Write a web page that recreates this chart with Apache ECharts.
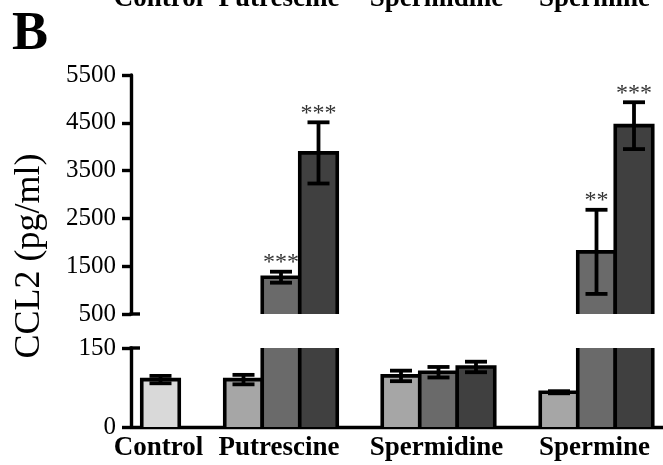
<!DOCTYPE html>
<html>
<head>
<meta charset="utf-8">
<script src="https://cdn.jsdelivr.net/npm/echarts@6.0.0/dist/echarts.min.js"></script>
<style>
  html, body { margin: 0; padding: 0; background: #ffffff; }
  #chart { width: 663px; height: 465px; }
</style>
</head>
<body>
<div id="chart"></div>
<script>
// CCL2 secretion (pg/ml), mean and SEM per treatment; dose levels low / mid / high
const categories = ['Control', 'Putrescine', 'Spermidine', 'Spermine'];
const controlMean = [90];
const controlSem = [7];
const putrescineMean = [90, 1270, 3870];
const putrescineSem = [9, 115, 640];
const spermidineMean = [97, 104, 114];
const spermidineSem = [10, 10, 10];
const spermineMean = [66, 1800, 4440];
const spermineSem = [2, 880, 490];
const controlSig = [''];
const putrescineSig = ['', '***', '***'];
const spermidineSig = ['', '', ''];
const spermineSig = ['', '**', '***'];
const upperTicks = [500, 1500, 2500, 3500, 4500, 5500];
const lowerTicks = [0, 150];
const lowerMinorTicks = [0, 50, 100, 150];

const groups = [
  { mean: controlMean, sem: controlSem, sig: controlSig },
  { mean: putrescineMean, sem: putrescineSem, sig: putrescineSig },
  { mean: spermidineMean, sem: spermidineSem, sig: spermidineSig },
  { mean: spermineMean, sem: spermineSem, sig: spermineSig }
];

// layout (x axis runs in plot pixels from the y axis)
const X_SPAN = 532;
const groupCenter = [29.5, 150, 307.5, 465.5];
const barStep = 37.5;
const controlFill = '#d9d9d9';
const doseFill = ['#a6a6a6', '#6a6a6a', '#404040'];
const SERIF = '"Liberation Serif", "DejaVu Serif", serif';

const rows = [];
groups.forEach((grp, g) => {
  grp.mean.forEach((m, d) => {
    rows.push({
      g, d, n: grp.mean.length, mean: m, sem: grp.sem[d], sig: grp.sig[d],
      fill: g === 0 ? controlFill : doseFill[d]
    });
  });
});
const rowData = rows.map(r => [r.g, r.d, r.mean, r.sem, r.n]);

function renderBar(params, api) {
  const r = rows[params.dataIndex];
  const cs = params.coordSys;
  const xc = groupCenter[r.g] + (r.d - (r.n - 1) / 2) * barStep;
  const p = api.coord([xc, r.mean]);
  const half = api.size([barStep, 0])[0] / 2;
  const left = p[0] - half, right = p[0] + half;
  const bottom = cs.y + cs.height;
  if (p[1] >= bottom) return null;
  const clipped = p[1] < cs.y;
  const top = clipped ? cs.y : p[1];
  const children = [
    { type: 'rect', shape: { x: left, y: top, width: right - left, height: bottom - top },
      style: { fill: r.fill }, silent: true }
  ];
  const edge = { stroke: '#000', lineWidth: 3.6, fill: null, lineJoin: 'miter', lineCap: 'butt' };
  if (clipped) {
    children.push({ type: 'line', shape: { x1: left, y1: bottom, x2: left, y2: top }, style: edge });
    children.push({ type: 'line', shape: { x1: right, y1: bottom, x2: right, y2: top }, style: edge });
  } else {
    children.push({ type: 'polyline',
      shape: { points: [[left, bottom], [left, top], [right, top], [right, bottom]] }, style: edge });
    const hi = api.coord([xc, r.mean + r.sem])[1];
    const lo = Math.min(api.coord([xc, r.mean - r.sem])[1], bottom);
    const cap = 11;
    const eb = { stroke: '#000', lineWidth: 3.8, lineCap: 'butt' };
    children.push({ type: 'line', shape: { x1: p[0], y1: hi, x2: p[0], y2: lo }, style: eb });
    children.push({ type: 'line', shape: { x1: p[0] - cap, y1: hi, x2: p[0] + cap, y2: hi }, style: eb });
    children.push({ type: 'line', shape: { x1: p[0] - cap, y1: lo, x2: p[0] + cap, y2: lo }, style: eb });
    if (r.sig) {
      children.push({ type: 'text',
        style: { text: r.sig, x: p[0], y: hi - 9, font: '24px ' + SERIF, fill: '#333333',
                 textAlign: 'center', textVerticalAlign: 'middle', align: 'center', verticalAlign: 'middle' } });
    }
  }
  return { type: 'group', children };
}

function renderLabel(params, api) {
  const g = params.dataIndex;
  const p = api.coord([groupCenter[g], 0]);
  const font = 'bold 27px ' + SERIF;
  const mk = (y) => ({ type: 'text',
    style: { text: categories[g], x: p[0] - 2, y, font, fill: '#000',
             textAlign: 'center', textVerticalAlign: 'middle', align: 'center', verticalAlign: 'middle' } });
  // same category row repeated along the top edge of the figure
  return { type: 'group', children: [mk(p[1] + 21), mk(-1)] };
}

const chart = echarts.init(document.getElementById('chart'), null, { renderer: 'canvas' });
const yLabel = { fontFamily: SERIF, fontSize: 25, color: '#000', margin: 15, formatter: v => String(v) };
const axisBlack = { lineStyle: { color: '#000', width: 3.4 } };

chart.setOption({
  animation: false,
  backgroundColor: '#ffffff',
  grid: [
    { left: 131, width: X_SPAN, top: 75, height: 239 },
    { left: 131, width: X_SPAN, top: 348, height: 79 }
  ],
  xAxis: [
    { gridIndex: 0, type: 'value', min: 0, max: X_SPAN, show: false },
    { gridIndex: 1, type: 'value', min: 0, max: X_SPAN,
      axisLine: { show: true, onZero: false, lineStyle: { color: '#000', width: 3.4 } },
      axisTick: { show: false }, axisLabel: { show: false }, splitLine: { show: false } }
  ],
  yAxis: [
    { gridIndex: 0, type: 'value', min: 500, max: 5500,
      axisLine: { show: true, ...axisBlack },
      axisTick: { show: true, length: 9, lineStyle: { color: '#000', width: 3.4 }, customValues: upperTicks },
      axisLabel: { ...yLabel, customValues: upperTicks },
      splitLine: { show: false } },
    { gridIndex: 1, type: 'value', min: 0, max: 150,
      axisLine: { show: true, ...axisBlack },
      axisTick: { show: true, length: 9, lineStyle: { color: '#000', width: 3.4 }, customValues: lowerTicks },
      axisLabel: { ...yLabel, customValues: lowerTicks },
      splitLine: { show: false } },
    { gridIndex: 1, type: 'value', min: 0, max: 150,
      axisLine: { show: false },
      axisTick: { show: true, length: 4, lineStyle: { color: '#000', width: 3 }, customValues: lowerMinorTicks },
      axisLabel: { show: false },
      splitLine: { show: false } }
  ],
  graphic: [
    { type: 'text', left: 12, top: 8,
      style: { text: 'B', font: 'bold 54px ' + SERIF, fill: '#000' } },
    { type: 'text', x: 30, y: 256, rotation: Math.PI / 2,
      style: { text: 'CCL2 (pg/ml)', font: '36px ' + SERIF, fill: '#000',
               textAlign: 'center', textVerticalAlign: 'middle', align: 'center', verticalAlign: 'middle' } },
    // axis-break marks at the ends of the two panels
    { type: 'line', shape: { x1: 129.5, y1: 314, x2: 140, y2: 314 }, style: { stroke: '#000', lineWidth: 3.4 } },
    { type: 'line', shape: { x1: 129.5, y1: 348, x2: 140, y2: 348 }, style: { stroke: '#000', lineWidth: 3.4 } }
  ],
  series: [
    { type: 'custom', name: 'upper', xAxisIndex: 0, yAxisIndex: 0, data: rowData,
      encode: { x: 0, y: 2 }, renderItem: renderBar, silent: true, z: 3 },
    { type: 'custom', name: 'lower', xAxisIndex: 1, yAxisIndex: 1, data: rowData,
      encode: { x: 0, y: 2 }, renderItem: renderBar, silent: true, z: 3 },
    { type: 'custom', name: 'labels', xAxisIndex: 1, yAxisIndex: 1,
      data: categories.map((c, i) => [i, 0]), encode: { x: 0, y: 1 },
      renderItem: renderLabel, silent: true, z: 4 }
  ]
});
</script>
</body>
</html>
